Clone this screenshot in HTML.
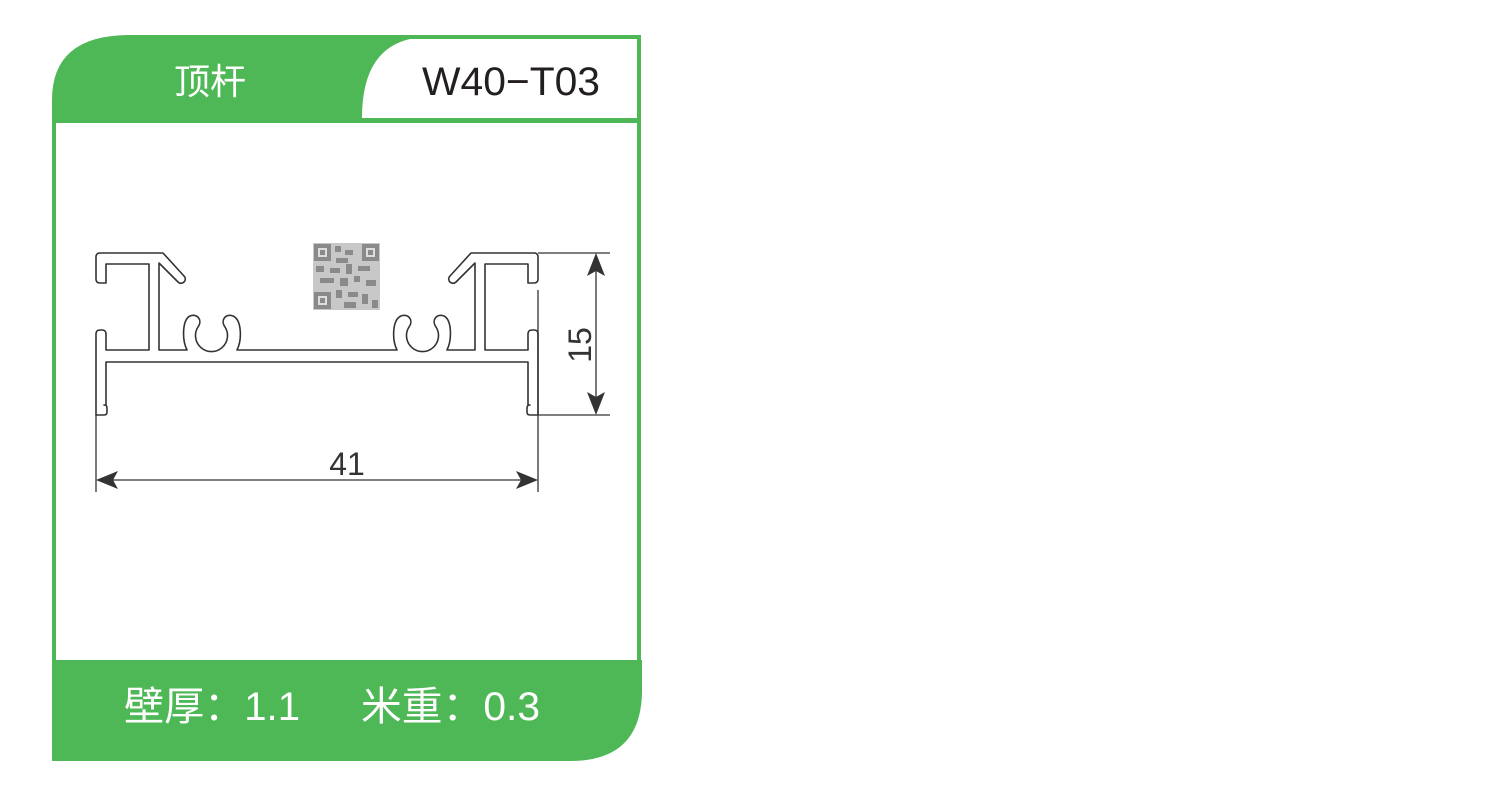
<!DOCTYPE html>
<html><head><meta charset="utf-8"><style>
html,body{margin:0;padding:0;background:#fff;}
svg{display:block}
</style></head><body>
<svg width="1500" height="808" viewBox="0 0 1500 808" xmlns="http://www.w3.org/2000/svg">
<path d="M52,100 Q52,35 130,35 L641,35 L641,660 L642,660 L642,690 Q642,761 570,761 L52,761 Z" fill="#4fb856"/>
<rect x="56" y="123" width="581" height="537" fill="#fff"/>
<path d="M362,118 Q362,50 410,39 L637,39 L637,118 Z" fill="#fff"/>
<text x="210" y="94" font-family="'Liberation Sans','Noto Sans CJK SC',sans-serif" font-size="36" fill="#fff" text-anchor="middle">顶杆</text>
<text x="511" y="95" font-family="'Liberation Sans',sans-serif" font-size="40" fill="#231f20" text-anchor="middle" textLength="178" lengthAdjust="spacingAndGlyphs">W40−T03</text>
<text x="124" y="720" font-family="'Liberation Sans','Noto Sans CJK SC',sans-serif" font-size="40" fill="#fff" textLength="176" lengthAdjust="spacingAndGlyphs">壁厚：1.1</text>
<text x="361" y="720" font-family="'Liberation Sans','Noto Sans CJK SC',sans-serif" font-size="40" fill="#fff" textLength="179" lengthAdjust="spacingAndGlyphs">米重：0.3</text>

<g fill="none" stroke="#333" stroke-width="1.6" stroke-linejoin="round">
<path id="half" d="M317,350 L237,350 C242,340 242,320 233,316 C226,313 220,320 225,327 A16,16 0 1 1 198,327 C203,320 197,313 190,316 C182,320 182,340 187,350 L159,350 L159,263 L178,282 C182,286 188,280 184,276 L163,253 L100,253 Q96,253 96,257 L96,279 Q96,283 100,283 L106,283 L106,264 L149,264 L149,350 L106,350 L106,334 Q106,330 102,330 L100,330 Q96,330 96,334 L96,415 L104,415 Q107,415 107,412 L107,408 Q107,405 104,405 L106,405 L106,362 L317,362"/>
<use href="#half" transform="translate(634,0) scale(-1,1)"/>
</g>

<g stroke="#333" stroke-width="1.3" fill="none">
<line x1="538" y1="253" x2="610" y2="253"/>
<line x1="538" y1="415" x2="610" y2="415"/>
<line x1="596" y1="262" x2="596" y2="406"/>
<line x1="96" y1="415" x2="96" y2="492"/>
<line x1="538" y1="290" x2="538" y2="492"/>
<line x1="105" y1="480" x2="529" y2="480"/>
</g>
<g fill="#333">
<path d="M596,253 L587,276 L596,271 L605,276 Z"/>
<path d="M596,415 L587,392 L596,397 L605,392 Z"/>
<path d="M96,480 L118,471 L113,480 L118,489 Z"/>
<path d="M538,480 L516,471 L521,480 L516,489 Z"/>
</g>
<text x="347" y="475" font-family="'Liberation Sans',sans-serif" font-size="32" fill="#333" text-anchor="middle">41</text>
<text transform="translate(591,345) rotate(-90)" font-family="'Liberation Sans',sans-serif" font-size="32" fill="#333" text-anchor="middle">15</text>

<g fill="#8a8a8a">
<rect x="313" y="243" width="67" height="67" fill="#c8c8c8"/>
<rect x="314" y="244" width="17" height="17"/><rect x="318" y="248" width="9" height="9" fill="#ddd"/><rect x="320" y="250" width="5" height="5"/>
<rect x="362" y="244" width="17" height="17"/><rect x="366" y="248" width="9" height="9" fill="#ddd"/><rect x="368" y="250" width="5" height="5"/>
<rect x="314" y="292" width="17" height="17"/><rect x="318" y="296" width="9" height="9" fill="#ddd"/><rect x="320" y="298" width="5" height="5"/>
<rect x="335" y="246" width="6" height="6"/><rect x="345" y="250" width="8" height="5"/><rect x="336" y="258" width="12" height="5"/>
<rect x="316" y="266" width="8" height="6"/><rect x="330" y="268" width="10" height="5"/><rect x="346" y="264" width="6" height="10"/><rect x="358" y="266" width="12" height="5"/>
<rect x="320" y="278" width="14" height="5"/><rect x="340" y="278" width="8" height="8"/><rect x="354" y="276" width="6" height="6"/><rect x="366" y="280" width="10" height="6"/>
<rect x="336" y="290" width="6" height="8"/><rect x="348" y="292" width="10" height="5"/><rect x="362" y="294" width="6" height="10"/><rect x="344" y="302" width="12" height="6"/><rect x="372" y="300" width="6" height="8"/>
</g>
</svg>
</body></html>
